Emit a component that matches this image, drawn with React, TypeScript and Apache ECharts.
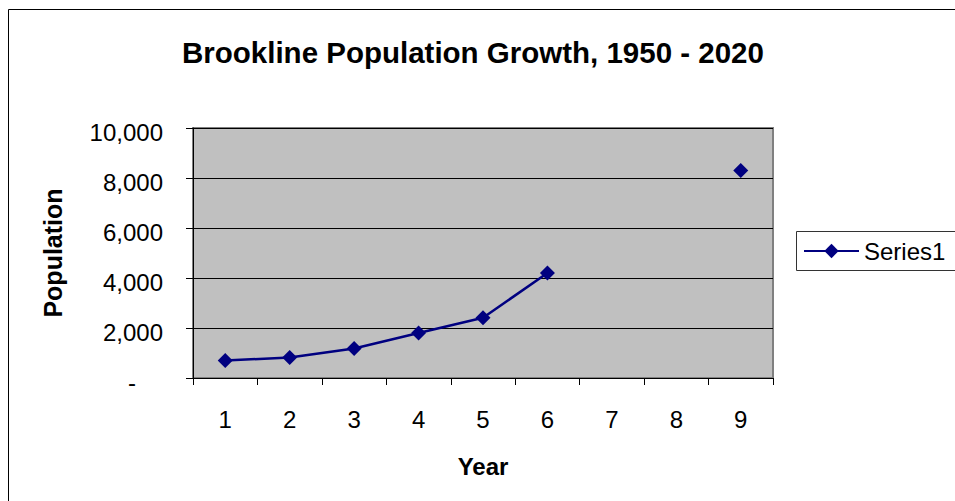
import React, { useEffect, useRef } from "react";
import * as echarts from "echarts";

const titleText = "Brookline Population Growth, 1950 - 2020";
const categories = ["1", "2", "3", "4", "5", "6", "7", "8", "9"];
const seriesName = "Series1";
const population: (number | null)[] = [700, 820, 1180, 1800, 2410, 4200, null, null, 8300];
const yTicks = [0, 2000, 4000, 6000, 8000, 10000];
const xAxisTitle = "Year";
const yAxisTitle = "Population";

export default function App() {
  const ref = useRef<HTMLDivElement>(null);
  useEffect(() => {
    document.body.style.margin = "0";
    document.documentElement.style.overflow = "hidden";
    document.body.style.overflow = "hidden";
    const chart = echarts.init(ref.current!, undefined, { renderer: "svg" });
    const font = "'Liberation Sans', Arial, sans-serif";
    chart.setOption({
      animation: false,
      backgroundColor: "#fff",
      textStyle: { fontFamily: font },
      title: {
        text: titleText,
        left: 169,
        top: 24,
        textStyle: { fontSize: 29.5, fontWeight: "bold", color: "#000", fontFamily: font },
      },
      graphic: [
        {
          type: "polyline",
          shape: { points: [[0.5, 3000], [0.5, 1.5], [3000, 1.5]] },
          style: { stroke: "#000", lineWidth: 1, fill: null },
          silent: true,
        },
        {
          type: "rect",
          shape: { x: 788.5, y: 223.5, width: 400, height: 39 },
          style: { stroke: "#333", lineWidth: 1, fill: "#fff" },
          silent: true,
          z: 0,
        },
      ],
      legend: {
        left: 788,
        top: 223,
        orient: "vertical",
        padding: [8, 7, 8, 7],
        itemWidth: 55,
        itemHeight: 18,
        itemGap: 0,
        z: 10,
        textStyle: { fontSize: 24, color: "#000", fontFamily: font },
        data: [seriesName],
      },
      grid: {
        left: 185,
        top: 120,
        right: 182,
        bottom: 123,
        show: true,
        backgroundColor: "#C0C0C0",
        borderColor: "#808080",
        borderWidth: 2,
      },
      xAxis: {
        type: "category",
        data: categories,
        boundaryGap: true,
        name: xAxisTitle,
        nameLocation: "middle",
        nameGap: 76,
        nameTextStyle: { fontSize: 24, fontWeight: "bold", color: "#000", fontFamily: font },
        axisLine: { show: true, lineStyle: { color: "#000", width: 1 } },
        axisTick: { show: true, length: 7, lineStyle: { color: "#000" }, alignWithLabel: false },
        axisLabel: { fontSize: 24, color: "#000", margin: 29, fontFamily: font },
        splitLine: { show: false },
      },
      yAxis: {
        type: "value",
        min: yTicks[0],
        max: yTicks[yTicks.length - 1],
        interval: yTicks[1] - yTicks[0],
        name: yAxisTitle,
        nameLocation: "middle",
        nameRotate: 90,
        nameGap: 128,
        nameTextStyle: { fontSize: 25, fontWeight: "bold", color: "#000", fontFamily: font },
        axisLine: { show: true, lineStyle: { color: "#000", width: 1 } },
        axisTick: { show: true, length: 7, lineStyle: { color: "#000" } },
        axisLabel: {
          fontSize: 24,
          color: "#000",
          margin: 30,
          padding: [8, 0, 0, 0],
          fontFamily: font,
          formatter: (v: number) =>
            v === 0 ? "{z|-}" : v.toLocaleString("en-US"),
          rich: { z: { fontSize: 24, color: "#000", padding: [0, 27, 0, 0], fontFamily: font } },
        },
        splitLine: { show: true, lineStyle: { color: "#000", width: 1 } },
      },
      series: [
        {
          name: seriesName,
          type: "line",
          data: population,
          connectNulls: false,
          symbol: "diamond",
          symbolSize: 15,
          showSymbol: true,
          showAllSymbol: true,
          color: "#000080",
          lineStyle: { color: "#000080", width: 2.5 },
          itemStyle: { color: "#000080" },
        },
      ],
    });
    return () => chart.dispose();
  }, []);
  return (
    <div style={{ paddingLeft: 8, paddingTop: 8, width: 947, height: 493 }}>
      <div ref={ref} style={{ width: 947, height: 493 }} />
    </div>
  );
}
